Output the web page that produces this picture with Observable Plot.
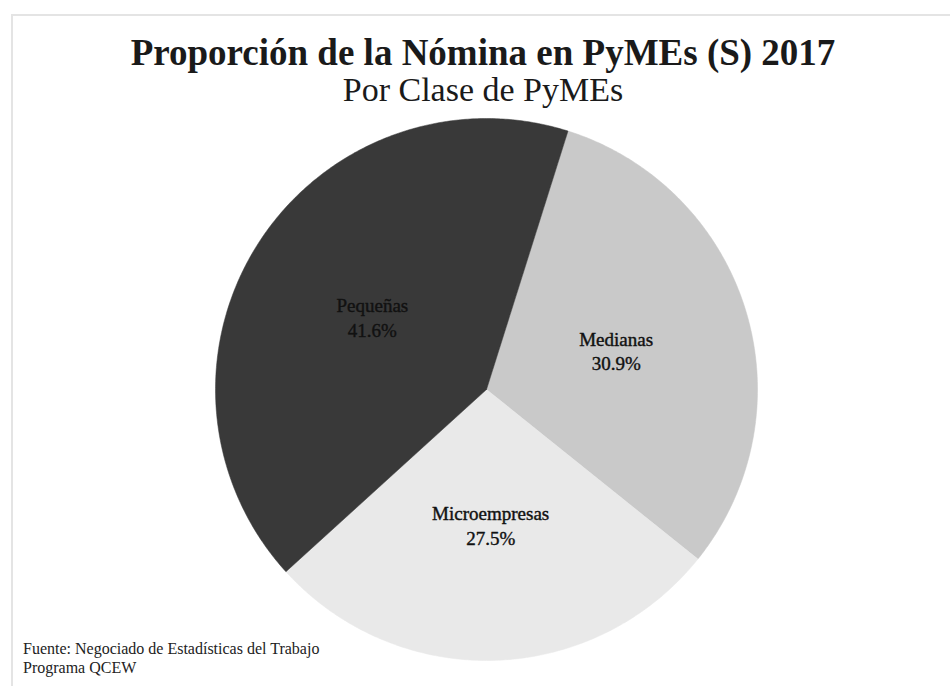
<!DOCTYPE html>
<html>
<head>
<meta charset="utf-8">
<script src="https://cdn.jsdelivr.net/npm/d3@7"></script>
<script src="https://cdn.jsdelivr.net/npm/@observablehq/plot@0.6"></script>
<style>
  html, body { margin: 0; padding: 0; background: #fff; }
  #wrap { position: relative; width: 950px; height: 686px; overflow: hidden; font-family: "Liberation Serif", "Times New Roman", serif; }
  #chart { position: absolute; left: 0; top: 0; }
  .title { position: absolute; left: 0; width: 966px; text-align: center; color: #1a1a1a; white-space: nowrap; }
  #t1 { top: 31px; font-size: 37px; font-weight: bold; }
  #t2 { top: 71px; font-size: 34px; }
  #cap { position: absolute; left: 23px; top: 639px; font-size: 16px; line-height: 19px; color: #222; }
  .fl { position: absolute; background: #e4e4e4; }
</style>
</head>
<body>
<div id="wrap">
  <div class="fl" style="left:11px; top:14px; width:2px; height:672px;"></div>
  <div class="fl" style="left:11px; top:14px; width:939px; height:2px;"></div>
  <div id="chart"></div>
  <div class="title" id="t1">Proporción de la Nómina en PyMEs (S) 2017</div>
  <div class="title" id="t2">Por Clase de PyMEs</div>
  <div id="cap">Fuente: Negociado de Estadísticas del Trabajo<br>Programa QCEW</div>
</div>
<script>
const categories = ["Medianas", "Microempresas", "Pequeñas"];
const values = [30.9, 27.5, 41.6];
const valueLabels = ["30.9%", "27.5%", "41.6%"];
const colors = ["#c9c9c9", "#e9e9e9", "#393939"];

const startDeg = 17.5;
const table = categories.map((name, i) => ({name, value: values[i], label: valueLabels[i]}));
const pie = d3.pie().value(d => d.value).sort(null)
  .startAngle(startDeg * Math.PI / 180)
  .endAngle(startDeg * Math.PI / 180 + 2 * Math.PI);
const arcs = pie(table);

const pts = [];
for (const a of arcs) {
  pts.push({name: a.data.name, x: 0, y: 0});
  const n = Math.max(2, Math.ceil((a.endAngle - a.startAngle) / (Math.PI / 360)));
  for (let k = 0; k <= n; k++) {
    const t = a.startAngle + (a.endAngle - a.startAngle) * k / n;
    pts.push({name: a.data.name, x: Math.sin(t), y: Math.cos(t)});
  }
  pts.push({name: a.data.name, x: 0, y: 0});
}
const lab = arcs.map(a => {
  const m = (a.startAngle + a.endAngle) / 2;
  return {name: a.data.name, text: a.data.name + "\n" + a.data.label, x: 0.5 * Math.sin(m), y: 0.5 * Math.cos(m)};
});

const cx = 486, cy = 389, r = 271;
const plot = Plot.plot({
  width: 950,
  height: 686,
  marginLeft: cx - r,
  marginRight: 950 - cx - r,
  marginTop: cy - r,
  marginBottom: 686 - cy - r,
  x: {domain: [-1, 1], axis: null},
  y: {domain: [-1, 1], axis: null},
  color: {domain: categories, range: colors},
  style: {background: "transparent", fontFamily: "'Liberation Serif', serif"},
  marks: [
    Plot.line(pts, {x: "x", y: "y", z: "name", fill: "name", stroke: "name", strokeWidth: 0.5, curve: "linear"}),
    Plot.text(lab, {x: "x", y: "y", text: "text", fontSize: 19, lineHeight: 1.3, fill: "#111", stroke: "#111", strokeWidth: 0.4})
  ]
});
document.getElementById("chart").appendChild(plot);
</script>
</body>
</html>
